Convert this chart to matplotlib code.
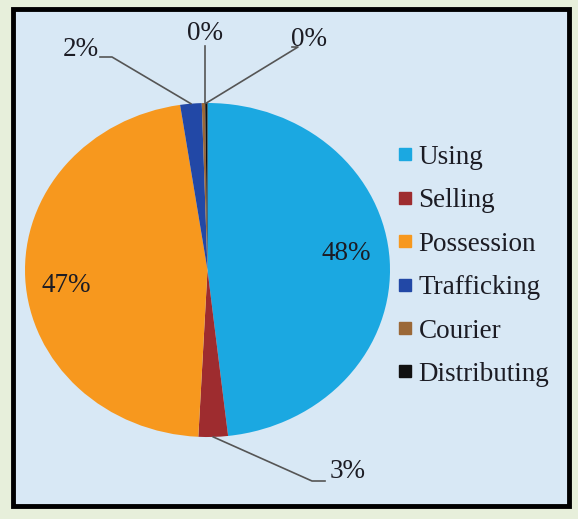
import numpy as np
import matplotlib.pyplot as plt
from matplotlib.patches import Rectangle
from matplotlib.lines import Line2D

# data
categories = ['Using', 'Selling', 'Possession', 'Trafficking', 'Courier', 'Distributing']
shares = [48.2, 2.6, 46.8, 1.9, 0.3, 0.2]
pct_labels = ['48%', '3%', '47%', '2%', '0%', '0%']
colors = ['#1ba8e1', '#9e2c2f', '#f7981e', '#2248a6', '#9b6837', '#111111']

W, H = 578, 519
plt.rcParams['font.family'] = ['Liberation Serif', 'DejaVu Serif']
fig = plt.figure(figsize=(W / 100, H / 100), dpi=100, facecolor='#e7efdb')

# light blue panel with black frame (behind the axes)
fig.patches.append(Rectangle((13 / W, 1 - 506 / H), 556 / W, 497 / H,
                             transform=fig.transFigure, facecolor='#d8e8f5',
                             edgecolor='black', lw=3.5, zorder=-5))

# pie (slightly stretched sideways like the original)
ax = fig.add_axes([25 / W, 1 - 437 / H, 365 / W, 334 / H])
wedges, _ = ax.pie(shares, colors=colors, startangle=90, counterclock=False,
                   wedgeprops=dict(linewidth=0))
ax.set_aspect('auto')
ax.set_xlim(-1, 1)
ax.set_ylim(-1, 1)

# overlay in pixel units for labels and leader lines
ov = fig.add_axes([0, 0, 1, 1])
ov.set_xlim(0, W)
ov.set_ylim(H, 0)
ov.axis('off')


def edge_px(w, r=1.0):
    ang = np.radians((w.theta1 + w.theta2) / 2)
    p = ax.transData.transform((r * np.cos(ang), r * np.sin(ang)))
    return ov.transData.inverted().transform(p)


fs = 19.5
txt_col = '#1c1c24'

# big labels inside the slices
ov.text(346, 253, pct_labels[0], fontsize=fs, ha='center', va='center', color=txt_col)
ov.text(66, 285, pct_labels[2], fontsize=fs, ha='center', va='center', color=txt_col)

# small slices: label + leader line (elbow, line end, text position)
callouts = {
    1: ((312, 481), (325, 481), (330, 472), 'left'),
    3: ((112, 57), (100, 57), (99, 49), 'right'),
    4: ((205, 46), (205, 46), (205, 33), 'center'),
    5: ((298, 47), (292, 47), (291, 40), 'left'),
}
for i, (elbow, end, tpos, ha) in callouts.items():
    x0, y0 = edge_px(wedges[i])
    if i == 4:
        x0 = elbow[0]
    ov.plot([x0, elbow[0], end[0]], [y0, elbow[1], end[1]], color='#555555', lw=1.2)
    ov.text(tpos[0], tpos[1], pct_labels[i], fontsize=fs, ha=ha, va='center', color=txt_col)

# legend
handles = [Line2D([], [], ls='none', marker='s', markersize=8, markerfacecolor=c,
                  markeredgecolor=c) for c in colors]
leg = fig.legend(handles, categories, loc='upper left', bbox_to_anchor=(386 / W, 1 - 134 / H),
                 frameon=False, fontsize=fs, handlelength=0.6, handletextpad=0.2,
                 labelspacing=0.68, borderaxespad=0)
for t in leg.get_texts():
    t.set_color(txt_col)

fig.savefig('out.png', dpi=100, facecolor=fig.get_facecolor())
